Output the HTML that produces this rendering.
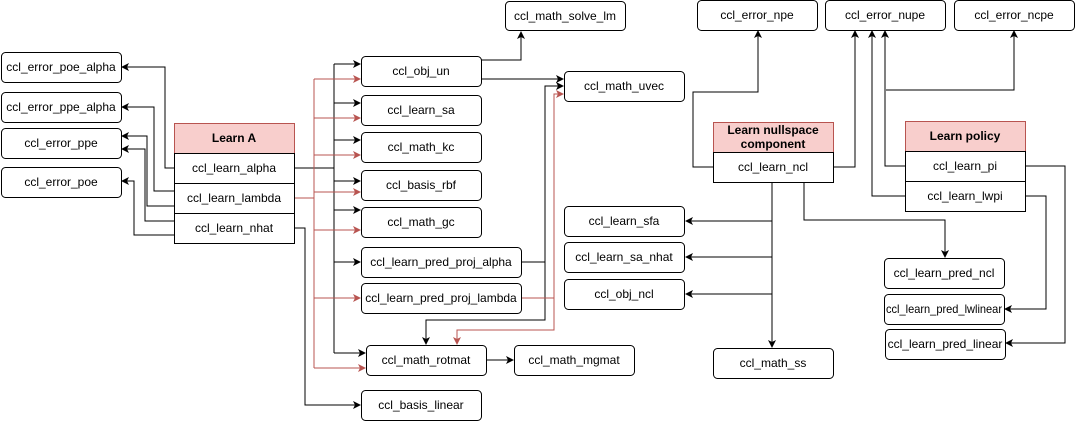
<!DOCTYPE html>
<html><head><meta charset="utf-8"><style>
html,body{margin:0;padding:0;background:#fff;width:1075px;height:421px;overflow:hidden}
svg text{font-family:"Liberation Sans",sans-serif;font-size:12px;fill:#000;text-anchor:middle;dominant-baseline:central}
</style></head><body>
<svg width="1075" height="421" viewBox="0 0 1075 421" xmlns="http://www.w3.org/2000/svg">
<defs>
<marker id="a" markerWidth="8" markerHeight="8" refX="7" refY="4" orient="auto" markerUnits="userSpaceOnUse"><path d="M0,0 L8,4 L0,8 L2,4 z" fill="#000"/></marker>
<marker id="r" markerWidth="8" markerHeight="8" refX="7" refY="4" orient="auto" markerUnits="userSpaceOnUse"><path d="M0,0 L8,4 L0,8 L2,4 z" fill="#b85450"/></marker>
</defs>
<g fill="none" stroke="#000" stroke-width="1">
<path d="M174,168 H165 V67 H122" marker-end="url(#a)"/>
<path d="M174,191 H154 V107 H122" marker-end="url(#a)"/>
<path d="M174,206 H147 V136 H122" marker-end="url(#a)"/>
<path d="M174,221 H145 V149 H122" marker-end="url(#a)"/>
<path d="M174,235 H134 V181 H122" marker-end="url(#a)"/>
<path d="M294,168 H334"/>
<path d="M334,64 V353"/>
<path d="M334,64 H360" marker-end="url(#a)"/>
<path d="M334,103 H360" marker-end="url(#a)"/>
<path d="M334,140 H360" marker-end="url(#a)"/>
<path d="M334,181 H360" marker-end="url(#a)"/>
<path d="M334,210 H360" marker-end="url(#a)"/>
<path d="M334,262 H360" marker-end="url(#a)"/>
<path d="M334,353 H365" marker-end="url(#a)"/>
<path d="M294,228 H305 V405 H360" marker-end="url(#a)"/>
<path d="M481,60 H521 V32" marker-end="url(#a)"/>
<path d="M481,79 H563" marker-end="url(#a)"/>
<path d="M521,262 H545 V86 H563" marker-end="url(#a)"/>
<path d="M545,262 V320 H426 V344" marker-end="url(#a)"/>
<path d="M486,360 H513" marker-end="url(#a)"/>
<path d="M713,167 H693 V92 H758 V31" marker-end="url(#a)"/>
<path d="M833,167 H855 V31" marker-end="url(#a)"/>
<path d="M772,182 V347" marker-end="url(#a)"/>
<path d="M772,221 H686" marker-end="url(#a)"/>
<path d="M772,257 H686" marker-end="url(#a)"/>
<path d="M772,294 H686" marker-end="url(#a)"/>
<path d="M804,182 V220 H945 V257" marker-end="url(#a)"/>
<path d="M905,166 H885 V31" marker-end="url(#a)"/>
<path d="M886,90 H1014 V31" marker-end="url(#a)"/>
<path d="M905,196 H872 V31" marker-end="url(#a)"/>
<path d="M1025,166 H1065 V343 H1006" marker-end="url(#a)"/>
<path d="M1025,196 H1046 V309 H1005" marker-end="url(#a)"/>
</g>
<g fill="none" stroke="#b85450" stroke-width="1">
<path d="M294,198 H314"/>
<path d="M314,79 V368"/>
<path d="M314,79 H360" marker-end="url(#r)"/>
<path d="M314,118 H360" marker-end="url(#r)"/>
<path d="M314,155 H360" marker-end="url(#r)"/>
<path d="M314,192 H360" marker-end="url(#r)"/>
<path d="M314,230 H360" marker-end="url(#r)"/>
<path d="M314,298 H360" marker-end="url(#r)"/>
<path d="M314,368 H365" marker-end="url(#r)"/>
<path d="M521,298 H554 V94 H563" marker-end="url(#r)"/>
<path d="M554,298 V330 H457 V344" marker-end="url(#r)"/>
</g>
<g fill="#fff" stroke="#000" stroke-width="1">
<rect x="505.5" y="1.5" width="120" height="29" rx="4"/>
<rect x="697.5" y="0.5" width="120" height="30" rx="4"/>
<rect x="825.5" y="0.5" width="120" height="30" rx="4"/>
<rect x="954.5" y="0.5" width="120" height="30" rx="4"/>
<rect x="1.5" y="52.5" width="120" height="30" rx="4"/>
<rect x="1.5" y="92.5" width="120" height="30" rx="4"/>
<rect x="1.5" y="128.5" width="120" height="30" rx="4"/>
<rect x="1.5" y="167.5" width="120" height="30" rx="4"/>
<rect x="361.5" y="56.5" width="120" height="30" rx="4"/>
<rect x="361.5" y="95.5" width="120" height="30" rx="4"/>
<rect x="361.5" y="132.5" width="120" height="30" rx="4"/>
<rect x="361.5" y="170.5" width="120" height="30" rx="4"/>
<rect x="361.5" y="207.5" width="120" height="30" rx="4"/>
<rect x="361.5" y="247.5" width="160" height="30" rx="4"/>
<rect x="361.5" y="283.5" width="160" height="30" rx="4"/>
<rect x="366.5" y="345.5" width="120" height="30" rx="4"/>
<rect x="514.5" y="345.5" width="120" height="30" rx="4"/>
<rect x="361.5" y="390.5" width="120" height="30" rx="4"/>
<rect x="564.5" y="71.5" width="120" height="30" rx="4"/>
<rect x="564.5" y="206.5" width="120" height="30" rx="4"/>
<rect x="564.5" y="242.5" width="120" height="30" rx="4"/>
<rect x="564.5" y="279.5" width="120" height="30" rx="4"/>
<rect x="713.5" y="348.5" width="120" height="30" rx="4"/>
<rect x="884.5" y="258.5" width="120" height="30" rx="4"/>
<rect x="884.5" y="294.5" width="120" height="30" rx="4"/>
<rect x="885.5" y="329.5" width="120" height="30" rx="4"/>
<rect x="174.5" y="123.5" width="120" height="30" fill="#f8cecc" stroke="#b85450"/>
<rect x="174.5" y="153.5" width="120" height="30"/>
<rect x="174.5" y="183.5" width="120" height="30"/>
<rect x="174.5" y="213.5" width="120" height="30"/>
<rect x="713.5" y="122.5" width="120" height="30" fill="#f8cecc" stroke="#b85450"/>
<rect x="713.5" y="152.5" width="120" height="30"/>
<rect x="905.5" y="121.5" width="120" height="30" fill="#f8cecc" stroke="#b85450"/>
<rect x="905.5" y="151.5" width="120" height="30"/>
<rect x="905.5" y="181.5" width="120" height="30"/>
</g>
<text x="565" y="16">ccl_math_solve_lm</text>
<text x="757" y="15">ccl_error_npe</text>
<text x="885" y="15">ccl_error_nupe</text>
<text x="1014" y="15">ccl_error_ncpe</text>
<text x="61" y="67">ccl_error_poe_alpha</text>
<text x="61" y="107">ccl_error_ppe_alpha</text>
<text x="61" y="143">ccl_error_ppe</text>
<text x="61" y="182">ccl_error_poe</text>
<text x="234" y="138" style="font-weight:bold">Learn A</text>
<text x="234" y="168">ccl_learn_alpha</text>
<text x="234" y="198">ccl_learn_lambda</text>
<text x="234" y="228">ccl_learn_nhat</text>
<text x="421" y="71">ccl_obj_un</text>
<text x="421" y="110">ccl_learn_sa</text>
<text x="421" y="147">ccl_math_kc</text>
<text x="421" y="185">ccl_basis_rbf</text>
<text x="421" y="222">ccl_math_gc</text>
<text x="441" y="262">ccl_learn_pred_proj_alpha</text>
<text x="441" y="298">ccl_learn_pred_proj_lambda</text>
<text x="426" y="360">ccl_math_rotmat</text>
<text x="574" y="360">ccl_math_mgmat</text>
<text x="421" y="405">ccl_basis_linear</text>
<text x="624" y="86">ccl_math_uvec</text>
<text x="624" y="221">ccl_learn_sfa</text>
<text x="624" y="257">ccl_learn_sa_nhat</text>
<text x="624" y="294">ccl_obj_ncl</text>
<text x="773" y="363">ccl_math_ss</text>
<text x="773" y="130" style="font-weight:bold">Learn nullspace</text>
<text x="773" y="144" style="font-weight:bold">component</text>
<text x="773" y="167">ccl_learn_ncl</text>
<text x="965" y="136" style="font-weight:bold">Learn policy</text>
<text x="965" y="166">ccl_learn_pi</text>
<text x="965" y="196">ccl_learn_lwpi</text>
<text x="944" y="273">ccl_learn_pred_ncl</text>
<text x="944" y="309" textLength="116" lengthAdjust="spacingAndGlyphs">ccl_learn_pred_lwlinear</text>
<text x="945" y="344">ccl_learn_pred_linear</text>
</svg>
</body></html>
